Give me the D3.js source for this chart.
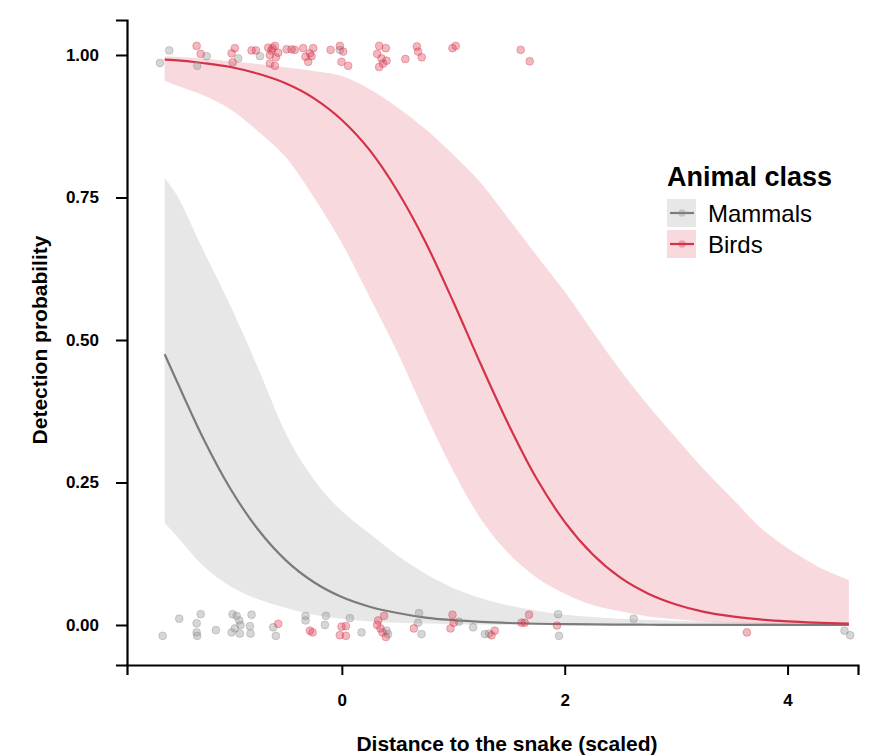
<!DOCTYPE html>
<html><head><meta charset="utf-8">
<script src="https://cdn.jsdelivr.net/npm/d3@7"></script>
<style>body{margin:0;background:#fff;} svg{display:block;font-family:"Liberation Sans",Arial,sans-serif;}</style>
</head><body>
<svg id="c" width="873" height="755"></svg>
<script>
// ---- data ----
const classes = ["Mammals", "Birds"];
const xTicks = [0, 2, 4];
const yTicks = [0, 0.25, 0.5, 0.75, 1];
const xGrid = [-1.59,-1.5,-1.25,-1,-0.75,-0.5,-0.25,0,0.25,0.5,0.75,1,1.25,1.5,1.75,2,2.25,2.5,2.75,3,3.25,3.5,3.75,4,4.25,4.55];
const mamFit = [0.475,0.436,0.330,0.239,0.167,0.113,0.075,0.049,0.032,0.021,0.013,0.0085,0.0055,0.0035,0.0022,0.0014,0.0009,0.0006,0.0004,0.0002,0.00015,0.0001,0.00006,0.00004,0.00003,0.00002];
const mamUp  = [0.784,0.76,0.66,0.56,0.45,0.335,0.255,0.2,0.16,0.122,0.09,0.065,0.047,0.034,0.025,0.018,0.014,0.011,0.009,0.007,0.006,0.005,0.004,0.003,0.0025,0.002];
const mamLo  = [0.179,0.16,0.105,0.068,0.045,0.03,0.018,0.011,0.006,0.004,0.0025,0.0015,0.001,0.0006,0.0004,0.0002,0.0001,0.0001,0,0,0,0,0,0,0,0];
const birdFit = [0.992,0.991,0.986,0.979,0.967,0.950,0.924,0.886,0.833,0.761,0.672,0.567,0.456,0.350,0.256,0.181,0.124,0.083,0.055,0.036,0.023,0.015,0.0097,0.0062,0.004,0.0024];
const birdUp  = [0.998,0.997,0.994,0.989,0.984,0.978,0.972,0.963,0.940,0.908,0.870,0.825,0.775,0.712,0.648,0.585,0.515,0.447,0.385,0.328,0.273,0.223,0.172,0.135,0.105,0.079];
const birdLo  = [0.955,0.948,0.93,0.905,0.866,0.82,0.75,0.67,0.575,0.478,0.37,0.27,0.185,0.125,0.083,0.055,0.035,0.024,0.015,0.01,0.006,0.004,0.002,0.001,0.001,0.0005];

const mamX = [-1.632,-1.549,-1.213,-1.298,-0.930,-0.735,-0.018,
  -1.608,-1.459,-1.267,-1.303,-1.303,-1.298,-1.130,-0.980,-0.944,-0.921,-0.909,-0.989,-0.960,-0.915,-0.810,-0.825,-0.819,-0.616,-0.592,-0.326,-0.326,-0.143,-0.152,0.072,0.177,0.401,0.415,0.693,0.684,0.715,1.052,1.178,1.283,1.321,1.940,1.949,2.619,4.511,4.562];
const mamY = [0.986,1.008,0.998,0.981,0.994,0.998,1.009,
  -0.019,0.011,0.019,0.003,-0.013,-0.019,-0.009,0.019,0.016,0.008,0.0,-0.013,-0.006,-0.015,0.018,-0.002,-0.015,-0.004,-0.019,0.016,0.008,0.016,0.0,0.012,-0.013,-0.010,-0.016,0.021,0.004,-0.016,0.006,-0.004,-0.016,-0.015,0.019,-0.019,0.011,-0.010,-0.018];
const birdX = [-1.303,-1.267,-0.989,-0.960,-0.980,-0.810,-0.771,-0.661,-0.622,-0.601,-0.646,-0.592,-0.646,-0.601,-0.631,-0.571,-0.496,-0.451,-0.422,-0.347,-0.326,-0.272,-0.257,-0.302,-0.287,-0.101,-0.018,0.012,-0.003,0.057,0.335,0.395,0.317,0.356,0.401,0.370,0.335,0.570,0.673,0.684,0.717,0.993,1.022,1.605,1.686,
  -0.571,-0.287,-0.263,-0.003,0.036,-0.018,0.036,0.379,0.326,0.317,0.347,0.365,0.395,0.646,0.993,1.004,0.975,1.372,1.343,1.612,1.641,1.680,1.931,3.635];
const birdY = [1.016,1.002,1.003,1.012,0.987,1.008,1.008,1.013,1.012,1.016,1.0,0.996,0.985,0.981,1.008,1.004,1.010,1.010,1.009,1.012,0.997,0.998,1.012,0.988,1.003,1.009,1.016,1.006,0.988,0.981,1.016,1.012,1.002,0.994,0.990,0.985,0.979,0.993,1.015,1.006,0.996,1.012,1.016,1.009,0.989,
  0.002,-0.010,-0.013,-0.003,-0.002,-0.018,-0.019,0.016,0.008,0.0,-0.006,-0.013,-0.021,-0.006,0.018,0.004,-0.006,-0.010,-0.018,0.004,0.004,0.018,-0.001,-0.013];

// ---- styles ----
const col = {Mammals:{line:"#7b7b7b", fill:"#9a9a9a", pt:"#8a8a8a"}, Birds:{line:"#d33248", fill:"#dc3c52", pt:"#d7354b"}};

const svg = d3.select("#c");
const x = d3.scaleLinear().domain([-1.928, 4.632]).range([127, 858]);
const y = d3.scaleLinear().domain([-0.0702, 1.0614]).range([665, 20]);

const series = [
  {name:"Mammals", fit:mamFit, up:mamUp, lo:mamLo, px:mamX, py:mamY},
  {name:"Birds", fit:birdFit, up:birdUp, lo:birdLo, px:birdX, py:birdY}
];

const area = d3.area().x(d=>x(d.x)).y0(d=>y(d.lo)).y1(d=>y(d.up)).curve(d3.curveMonotoneX);
const line = d3.line().x(d=>x(d.x)).y(d=>y(d.f)).curve(d3.curveMonotoneX);

series.forEach(s=>{
  s.pts = xGrid.map((v,i)=>({x:v, f:s.fit[i], up:s.up[i], lo:s.lo[i]}));
});
// ribbons
series.forEach(s=>{
  svg.append("path").datum(s.pts).attr("d", area)
    .attr("fill", col[s.name].fill).attr("fill-opacity", s.name==="Birds"?0.19:0.24);
});
// lines
series.forEach(s=>{
  svg.append("path").datum(s.pts).attr("d", line)
    .attr("fill","none").attr("stroke", col[s.name].line).attr("stroke-width", 2.2);
});
// points
series.forEach(s=>{
  svg.append("g").selectAll("circle").data(s.px.map((v,i)=>[v, s.py[i]])).join("circle")
    .attr("cx", d=>x(d[0])).attr("cy", d=>y(d[1])).attr("r", 3.9)
    .attr("fill", col[s.name].pt).attr("fill-opacity", 0.35)
    .attr("stroke", col[s.name].pt).attr("stroke-opacity", 0.45).attr("stroke-width", 0.8);
});

// axes
const xAxis = svg.append("g").attr("transform","translate(0,665)")
  .call(d3.axisBottom(x).tickValues(xTicks).tickFormat(d3.format("d")).tickSize(10).tickPadding(19));
const yAxis = svg.append("g").attr("transform","translate(127,0)")
  .call(d3.axisLeft(y).tickValues(yTicks).tickFormat(d3.format(".2f")).tickSize(11).tickPadding(17));
[xAxis, yAxis].forEach(a=>{
  a.select(".domain").attr("stroke","#000").attr("stroke-width",2.2);
  a.selectAll(".tick line").attr("stroke","#000").attr("stroke-width",2);
  a.selectAll(".tick text").attr("fill","#000").style("font-size","17px").style("font-weight","bold")
    .style("font-family","'Liberation Sans',Arial,sans-serif");
});

// axis titles
svg.append("text").attr("x", 507).attr("y", 751).attr("text-anchor","middle")
  .style("font-size","21px").style("font-weight","bold").text("Distance to the snake (scaled)");
svg.append("text").attr("transform","translate(47,340) rotate(-90)").attr("text-anchor","middle")
  .style("font-size","21px").style("font-weight","bold").text("Detection probability");

// legend
const lg = svg.append("g");
lg.append("text").attr("x", 667).attr("y", 186).style("font-size","27px").style("font-weight","bold").text("Animal class");
classes.forEach((c,i)=>{
  const y0 = 199 + i*31;
  lg.append("rect").attr("x", 667).attr("y", y0).attr("width", 29).attr("height", 28)
    .attr("fill", col[c].fill).attr("fill-opacity", c==="Birds"?0.19:0.24);
  lg.append("line").attr("x1", 670).attr("x2", 694).attr("y1", y0+14).attr("y2", y0+14)
    .attr("stroke", col[c].line).attr("stroke-width", 2.2);
  lg.append("circle").attr("cx", 682).attr("cy", y0+14).attr("r", 3.8)
    .attr("fill", col[c].pt).attr("fill-opacity", 0.35);
  lg.append("text").attr("x", 708).attr("y", y0+22.5).style("font-size","24px").text(c);
});
</script>
</body></html>
